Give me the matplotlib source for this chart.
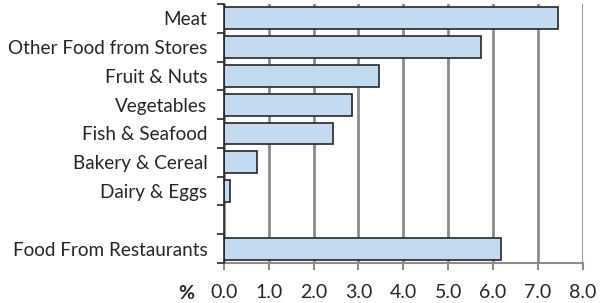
import matplotlib
matplotlib.use("Agg")
import matplotlib.pyplot as plt
import numpy as np

categories = ["Meat", "Other Food from Stores", "Fruit & Nuts", "Vegetables",
              "Fish & Seafood", "Bakery & Cereal", "Dairy & Eggs", "",
              "Food From Restaurants"]
values = [7.46, 5.74, 3.46, 2.85, 2.44, 0.73, 0.14, np.nan, 6.18]
xticks = [0.0, 1.0, 2.0, 3.0, 4.0, 5.0, 6.0, 7.0, 8.0]

plt.rcParams['font.family'] = ['Lato', 'DejaVu Sans']

fig = plt.figure(figsize=(6.13, 3.03), dpi=100)
ax = fig.add_axes([0.3654, 0.132, 0.585, 0.855])

n = len(categories)
ypos = np.arange(n)
vals = np.array(values, dtype=float)
mask = ~np.isnan(vals)
ax.barh(ypos[mask], vals[mask], height=0.76, color="#c5d9f1",
        edgecolor="#262626", linewidth=1.2, zorder=3)

ax.set_ylim(n - 0.5, -0.5)
ax.set_xlim(0, 8)
ax.set_yticks(ypos)
ax.set_yticklabels(categories, fontsize=13.6, color="#262626")
ax.tick_params(axis="y", which="major", length=0, pad=12)
ax.set_yticks(np.arange(n + 1) - 0.5, minor=True)
ax.tick_params(axis="y", which="minor", length=5, width=1.2, color="#262626", direction="out")

ax.set_xticks(xticks)
ax.set_xticklabels([f"{t:.1f}" for t in xticks], fontsize=14, color="#262626")
ax.tick_params(axis="x", which="major", length=5, width=1.5, color="#8c8c8c", pad=10)

ax.grid(axis="x", color="#8c8c8c", linewidth=2, zorder=0)
ax.set_axisbelow(True)
for s in ["top", "right"]:
    ax.spines[s].set_visible(False)
ax.spines["left"].set_color("#262626")
ax.spines["left"].set_linewidth(1.2)
ax.spines["left"].set_zorder(4)
ax.spines["bottom"].set_color("#8c8c8c")
ax.spines["bottom"].set_linewidth(1.5)

fig.text(186 / 613, 1 - 299 / 303, "%", fontsize=14, fontweight="bold",
         color="#262626", ha="center", va="baseline")

fig.savefig("out.png", dpi=100)
